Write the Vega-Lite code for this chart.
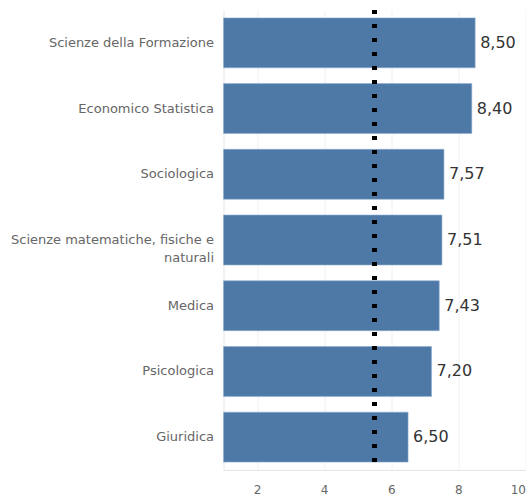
{
  "$schema": "https://vega.github.io/schema/vega-lite/v6.json",
  "width": 302,
  "height": 460,
  "autosize": {"type": "none"},
  "padding": {"left": 223.5, "top": 10, "right": 0, "bottom": 29},
  "background": "white",
  "config": {
    "view": {"stroke": null},
    "font": "DejaVu Sans",
    "locale": {"number": {"decimal": ",", "thousands": ".", "grouping": [3], "currency": ["€", ""]}}
  },
  "data": {
    "values": [
      {"area": "Scienze della Formazione", "voto": 8.5},
      {"area": "Economico Statistica", "voto": 8.4},
      {"area": "Sociologica", "voto": 7.57},
      {"area": "Scienze matematiche, fisiche e naturali", "voto": 7.51},
      {"area": "Medica", "voto": 7.43},
      {"area": "Psicologica", "voto": 7.2},
      {"area": "Giuridica", "voto": 6.5}
    ]
  },
  "encoding": {
    "y": {
      "field": "area",
      "type": "nominal",
      "sort": null,
      "title": null,
      "scale": {"paddingInner": 0.24, "paddingOuter": 0.12},
      "axis": {
        "ticks": false,
        "domain": true,
        "domainColor": "#e6e6e6",
        "labelColor": "#666666",
        "labelFont": "DejaVu Sans",
        "labelFontSize": 13,
        "labelPadding": 10,
        "labelLimit": 300,
        "labelLineHeight": 18,
        "labelExpr": "datum.value == 'Scienze matematiche, fisiche e naturali' ? ['Scienze matematiche, fisiche e', 'naturali'] : datum.value"
      }
    }
  },
  "layer": [
    {
      "mark": {"type": "bar", "color": "#4e79a7", "stroke": "#8fb0d0", "strokeWidth": 0.6},
      "encoding": {
        "x": {
          "field": "voto",
          "type": "quantitative",
          "title": null,
          "scale": {"domain": [1, 10], "nice": false, "zero": false},
          "axis": {
            "values": [2, 4, 6, 8, 10],
            "format": "d",
            "ticks": false,
            "grid": true,
            "gridColor": "#f0f0f0",
            "domainColor": "#e6e6e6",
            "labelColor": "#666666",
            "labelFont": "DejaVu Sans",
            "labelFontSize": 12,
            "labelPadding": 14,
            "labelFlush": true
          }
        },
        "x2": {"datum": 1}
      }
    },
    {
      "mark": {"type": "text", "align": "left", "baseline": "middle", "dx": 5, "fontSize": 16, "font": "DejaVu Sans", "color": "#333333"},
      "encoding": {
        "x": {"field": "voto", "type": "quantitative"},
        "text": {"field": "voto", "type": "quantitative", "format": ".2f"}
      }
    },
    {
      "mark": {"type": "rule", "color": "black", "strokeWidth": 4, "strokeDash": [4, 10]},
      "encoding": {"x": {"datum": 5.5, "type": "quantitative"}, "y": null}
    }
  ]
}
